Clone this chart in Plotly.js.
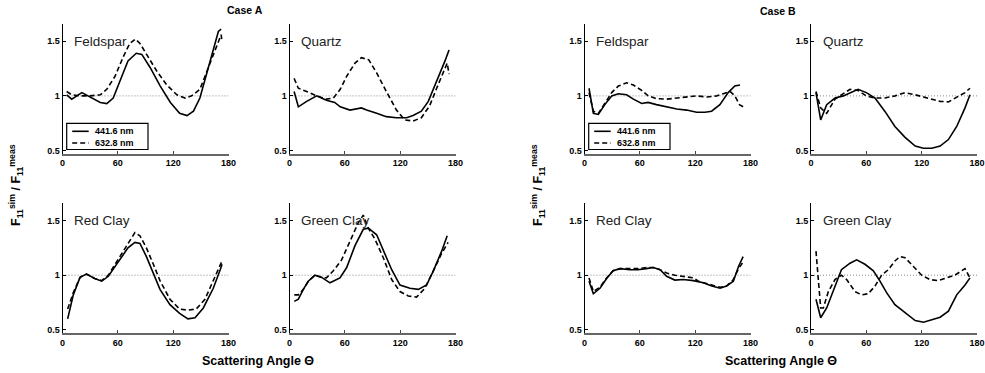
<!DOCTYPE html>
<html>
<head>
<meta charset="utf-8">
<script src="https://cdn.plot.ly/plotly-3.0.1.min.js"></script>
<style>html,body{margin:0;padding:0;background:#fff;}#chart{width:985px;height:373px;}</style>
</head>
<body>
<div id="chart"></div>
<script>
// ---- Data ----
const seriesNames = ["441.6 nm", "632.8 nm"];
const panelNames = ["Feldspar", "Quartz", "Red Clay", "Green Clay"];
const xTicks = [0, 60, 120, 180];
const yTicks = [0.5, 1, 1.5];
const yTickText = ["0.5", "1", "1.5"];
const refX = [0, 180];
const refY = [1, 1];

// Case A
const aFeldspar441X = [4.5,10,21,28,34,41,48,55,62,71,80,86,95,106,117,127,135,142,149,156,163,169,172];
const aFeldspar441Y = [1.01,0.97,1.03,1.0,0.97,0.94,0.93,0.98,1.13,1.32,1.39,1.38,1.26,1.09,0.94,0.84,0.82,0.86,0.98,1.20,1.41,1.59,1.61];
const aFeldspar632X = [4.5,10,19,30,41,48,57,66,73,79,84,91,102,113,124,133,140,149,156,164,169,172,173];
const aFeldspar632Y = [1.04,1.01,1.0,1.0,1.01,1.06,1.18,1.36,1.48,1.52,1.48,1.38,1.23,1.10,1.01,0.98,1.0,1.06,1.21,1.38,1.50,1.56,1.50];

const aQuartz441X = [5,9.6,18.6,29.5,40,49,55,65.6,78,83.6,94.5,105,116,127,134,143,150.5,159.6,168.6,173];
const aQuartz441Y = [1.04,0.90,0.95,1.0,0.96,0.94,0.90,0.87,0.89,0.87,0.84,0.81,0.80,0.80,0.82,0.86,0.95,1.13,1.32,1.42];
const aQuartz632X = [5,9.6,18.6,29.5,40,47.5,55,62,71,78,86,94.5,105,116,125,134,143,152,159.6,168.6,171,173];
const aQuartz632Y = [1.16,1.07,1.04,1.0,0.97,0.98,1.06,1.18,1.30,1.35,1.33,1.21,1.04,0.87,0.78,0.77,0.80,0.91,1.07,1.24,1.30,1.20];

const aRedClay441X = [5.6,11.7,19,26,35,42.5,49.7,57,64,71,78.5,84,91,98.5,105.7,116.5,127,136,143.7,152.7,163.5,171,173];
const aRedClay441Y = [0.60,0.82,0.98,1.01,0.97,0.945,0.99,1.08,1.17,1.25,1.30,1.29,1.17,1.02,0.87,0.73,0.65,0.60,0.61,0.70,0.88,1.05,1.10];
const aRedClay632X = [5.6,11.7,19,26,35,42.5,49.7,57,64,71,78.5,84,91,98.5,105.7,116.5,127,136,145,154.5,163.5,171,173];
const aRedClay632Y = [0.69,0.84,0.98,1.01,0.97,0.95,1.0,1.10,1.19,1.28,1.39,1.36,1.25,1.10,0.95,0.78,0.69,0.68,0.69,0.78,0.95,1.10,1.13];

const aGreenClay441X = [5.2,9.6,15,20.4,27.6,34.9,43.9,54.7,62,71,80,85.5,94.5,101.7,110.8,119.8,130.6,139.7,148.7,156,165,171];
const aGreenClay441Y = [0.76,0.78,0.87,0.945,1.0,0.98,0.93,0.975,1.07,1.27,1.42,1.43,1.37,1.23,1.05,0.91,0.88,0.87,0.91,1.04,1.22,1.36];
const aGreenClay632X = [5.2,9.6,15,20.4,27.6,34.9,40,47.5,56.5,65.6,74.6,80,85.5,92.6,101.7,110.8,119.8,128.8,137.8,146.8,156,165,172];
const aGreenClay632Y = [0.82,0.82,0.87,0.945,1.0,0.98,0.975,1.04,1.14,1.31,1.48,1.55,1.43,1.33,1.16,0.96,0.85,0.81,0.80,0.88,1.05,1.20,1.30];

// Case B
const bFeldspar441X = [4.9,9.6,15,22,29.5,36.7,45.7,53,62,69,78,89,100,110.8,121.6,130.6,137.8,146.8,155.8,163,168.6];
const bFeldspar441Y = [1.07,0.84,0.83,0.92,1.0,1.02,1.01,0.97,0.93,0.94,0.92,0.90,0.88,0.87,0.85,0.85,0.86,0.92,1.03,1.09,1.10];
const bFeldspar632X = [4.9,9.6,15,22,29.5,36.7,45.7,53,62,69,78,89,100,110.8,121.6,132.5,143.3,150.5,157.8,163,168,172];
const bFeldspar632Y = [1.03,0.86,0.84,0.93,1.03,1.09,1.12,1.10,1.05,1.0,0.975,0.97,0.98,0.995,1.0,0.99,1.0,1.02,1.04,1.0,0.92,0.90];

const bQuartz441X = [5.4,10.5,17,26,35,42.3,51,60,69.4,80,91,102,113,122,131,140,149,158,167,172.4];
const bQuartz441Y = [1.03,0.78,0.92,0.98,1.0,1.03,1.06,1.03,0.98,0.86,0.72,0.62,0.54,0.52,0.52,0.54,0.60,0.72,0.89,1.01];
const bQuartz632X = [5.4,10.5,17,26,35,42.3,51,60,69.4,80,91,102,113,122,131,140,149,158,167,172.4];
const bQuartz632Y = [1.04,0.89,0.84,0.97,1.02,1.06,1.05,1.0,0.98,0.98,1.0,1.03,1.01,0.99,0.97,0.95,0.945,0.99,1.03,1.07];

const bRedClay441X = [4.9,9.6,16.8,24,31,38.5,49,58,67,74.6,82,89,98,107,118,128.8,138,147,154,161.4,167,172];
const bRedClay441Y = [0.945,0.83,0.88,0.97,1.04,1.06,1.05,1.05,1.06,1.07,1.05,0.99,0.955,0.96,0.95,0.93,0.90,0.88,0.90,0.945,1.08,1.17];
const bRedClay632X = [4.9,9.6,16.8,24,31,38.5,49,58,67,74.6,82,89,98,107,118,123.5,128.8,138,147,154,161.4,167,172];
const bRedClay632Y = [0.975,0.85,0.89,0.975,1.04,1.06,1.06,1.06,1.07,1.07,1.05,1.02,1.0,0.99,0.975,0.945,0.93,0.91,0.89,0.90,0.96,1.06,1.12];

const bGreenClay441X = [5.4,10.5,17,24,33,42.3,49.5,58.5,67.6,74.8,82,91,102,113,122,131,140,149,158,167,172.4];
const bGreenClay441Y = [0.78,0.61,0.70,0.85,1.05,1.11,1.14,1.10,1.04,0.945,0.84,0.73,0.655,0.585,0.57,0.595,0.615,0.67,0.82,0.91,0.975];
const bGreenClay632X = [5.4,8,10.5,13.4,18.8,26,33,38.7,47.7,55,62,69.4,76.6,83.8,91,96.5,102,111,120,129,138,147,156,167,172.4];
const bGreenClay632Y = [1.22,0.975,0.70,0.70,0.85,0.96,1.0,0.96,0.85,0.82,0.83,0.90,1.0,1.05,1.13,1.17,1.16,1.08,1.0,0.96,0.95,0.975,1.0,1.06,0.975];

// ---- Build ----
const panels = [
  {ax: 1, name: panelNames[0], s441: [aFeldspar441X, aFeldspar441Y], s632: [aFeldspar632X, aFeldspar632Y], legendAt: 66.7},
  {ax: 2, name: panelNames[1], s441: [aQuartz441X, aQuartz441Y], s632: [aQuartz632X, aQuartz632Y]},
  {ax: 3, name: panelNames[2], s441: [aRedClay441X, aRedClay441Y], s632: [aRedClay632X, aRedClay632Y]},
  {ax: 4, name: panelNames[3], s441: [aGreenClay441X, aGreenClay441Y], s632: [aGreenClay632X, aGreenClay632Y]},
  {ax: 5, name: panelNames[0], s441: [bFeldspar441X, bFeldspar441Y], s632: [bFeldspar632X, bFeldspar632Y], legendAt: 588.7},
  {ax: 6, name: panelNames[1], s441: [bQuartz441X, bQuartz441Y], s632: [bQuartz632X, bQuartz632Y]},
  {ax: 7, name: panelNames[2], s441: [bRedClay441X, bRedClay441Y], s632: [bRedClay632X, bRedClay632Y]},
  {ax: 8, name: panelNames[3], s441: [bGreenClay441X, bGreenClay441Y], s632: [bGreenClay632X, bGreenClay632Y]}
];

const W = 985, H = 373;
const colPx = [[62.5, 228.5], [289.5, 455.5], [584.5, 750.5], [811, 977]];
const rowPx = [[24, 154], [203.3, 333.3]];
const grid = [[0,0],[1,0],[0,1],[1,1],[2,0],[3,0],[2,1],[3,1]];

const FONT = 'Liberation Sans, Arial, Helvetica, sans-serif';
const DASH = '5px,3px';
const traces = [];
const annotations = [];
const shapes = [];
const layout = {
  width: W, height: H,
  margin: {l: 0, r: 0, t: 0, b: 0},
  paper_bgcolor: '#fff', plot_bgcolor: '#fff',
  font: {family: FONT, color: '#000'},
  showlegend: false
};

const px = v => v / W, py = v => 1 - v / H;

panels.forEach((p, i) => {
  const [c, r] = grid[i];
  const xs = p.ax === 1 ? '' : String(p.ax);
  const xa = 'x' + xs, ya = 'y' + xs;
  layout['xaxis' + xs] = {
    domain: [px(colPx[c][0]), px(colPx[c][1])], anchor: ya, range: [0, 180],
    tickvals: xTicks, ticks: 'inside', ticklen: 3, tickcolor: '#444',
    showgrid: false, zeroline: false, showline: true, linecolor: '#666', linewidth: 1.5,
    tickfont: {size: 9, weight: 'bold', family: FONT, color: '#000'}, fixedrange: true
  };
  layout['yaxis' + xs] = {
    domain: [py(rowPx[r][1]), py(rowPx[r][0])], anchor: xa, range: [0.468, 1.658],
    tickvals: yTicks, ticktext: yTickText, ticks: 'inside', ticklen: 3, tickcolor: '#000',
    showgrid: false, zeroline: false, showline: true, linecolor: '#000', linewidth: 1,
    tickfont: {size: 9, weight: 'bold', family: FONT, color: '#000'}, fixedrange: true
  };
  traces.push({x: refX, y: refY, xaxis: xa, yaxis: ya, mode: 'lines', showlegend: false,
    line: {color: '#8a8a8a', width: 1, dash: '1px,2px'}, hoverinfo: 'skip'});
  traces.push({x: p.s441[0], y: p.s441[1], xaxis: xa, yaxis: ya, mode: 'lines', name: seriesNames[0],
    line: {color: '#000', width: 1.6}});
  traces.push({x: p.s632[0], y: p.s632[1], xaxis: xa, yaxis: ya, mode: 'lines', name: seriesNames[1],
    line: {color: '#000', width: 1.6, dash: DASH}});
  annotations.push({xref: xa, yref: ya, x: 10.5, y: 1.5, xanchor: 'left', yanchor: 'middle',
    text: p.name, showarrow: false, font: {size: 13.5, family: FONT, color: '#222'}});

  // legend box (drawn in the Feldspar panels, as in the reference)
  if (p.legendAt !== undefined) {
    const L = p.legendAt;
    shapes.push({type: 'rect', xref: 'paper', yref: 'paper', x0: px(L), x1: px(L + 81.3),
      y0: py(149.5), y1: py(123.3), line: {color: '#000', width: 1.2}, fillcolor: '#fff', layer: 'above'});
    const rows = [131.3, 143];
    seriesNames.forEach((nm, k) => {
      shapes.push({type: 'line', xref: 'paper', yref: 'paper', x0: px(L + 5.5), x1: px(L + 22),
        y0: py(rows[k]), y1: py(rows[k]), layer: 'above',
        line: {color: '#000', width: 1.6, dash: k === 0 ? 'solid' : DASH}});
      annotations.push({xref: 'paper', yref: 'paper', x: px(L + 26), y: py(rows[k]), xanchor: 'left', yanchor: 'middle',
        text: nm, showarrow: false, font: {size: 9, weight: 'bold', family: FONT, color: '#000'}});
    });
  }
});

const titleFont = {size: 10.5, weight: 'bold', family: FONT, color: '#000'};
const axTitleFont = {size: 12.5, weight: 'bold', family: FONT, color: '#000'};
const yTitle = 'F<sub>11</sub><sup>sim</sup> / F<sub>11</sub><sup>meas</sup>';
const xTitle = 'Scattering Angle Θ';
annotations.push({xref: 'paper', yref: 'paper', x: px(244.5), y: py(10), text: 'Case A', showarrow: false, font: titleFont, xanchor: 'center', yanchor: 'middle'});
annotations.push({xref: 'paper', yref: 'paper', x: px(778), y: py(11), text: 'Case B', showarrow: false, font: titleFont, xanchor: 'center', yanchor: 'middle'});
annotations.push({xref: 'paper', yref: 'paper', x: px(257.5), y: py(361), text: xTitle, showarrow: false, font: axTitleFont, xanchor: 'center', yanchor: 'middle'});
annotations.push({xref: 'paper', yref: 'paper', x: px(780.5), y: py(361), text: xTitle, showarrow: false, font: axTitleFont, xanchor: 'center', yanchor: 'middle'});
annotations.push({xref: 'paper', yref: 'paper', x: px(16), y: py(185), text: yTitle, textangle: -90, showarrow: false, font: axTitleFont, xanchor: 'center', yanchor: 'middle'});
annotations.push({xref: 'paper', yref: 'paper', x: px(538), y: py(185), text: yTitle, textangle: -90, showarrow: false, font: axTitleFont, xanchor: 'center', yanchor: 'middle'});
layout.annotations = annotations;
layout.shapes = shapes;

Plotly.newPlot('chart', traces, layout, {displayModeBar: false, staticPlot: true});
</script>
</body>
</html>
